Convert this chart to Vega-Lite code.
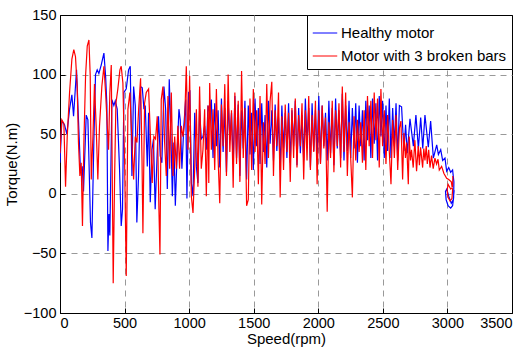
{
"$schema": "https://vega.github.io/schema/vega-lite/v6.json",
"width": 452, "height": 298,
"autosize": {"type": "none"},
"padding": {"left": 60, "top": 15, "right": 17, "bottom": 39},
"background": "white",
"config": {
  "font": "Liberation Sans",
  "view": {"stroke": "black", "strokeWidth": 1},
  "axis": {"domainColor": "black", "tickColor": "black", "labelColor": "black", "titleColor": "black", "labelFont": "Liberation Sans", "titleFont": "Liberation Sans", "labelFontSize": 14.5, "titleFontSize": 15, "titleFontWeight": "normal", "gridColor": "#999999", "gridDash": [6, 5], "gridOpacity": 1, "tickSize": -5, "labelPadding": 8},
  "legend": {"labelFont": "Liberation Sans", "labelFontSize": 15, "labelColor": "black"}
},
"datasets": {
"h": [
{"x":0,"y":26},{"x":14,"y":61},{"x":35,"y":58},{"x":53,"y":50},{"x":74,"y":71},{"x":92,"y":83},{"x":105,"y":65},{"x":128,"y":104},{"x":146,"y":54},{"x":159,"y":18},{"x":172,"y":23},{"x":182,"y":2},{"x":203,"y":66},{"x":216,"y":62},{"x":224,"y":29},{"x":236,"y":-24},{"x":247,"y":-37},{"x":262,"y":43},{"x":275,"y":100},{"x":288,"y":104},{"x":301,"y":101},{"x":319,"y":108},{"x":340,"y":118},{"x":353,"y":99},{"x":363,"y":75},{"x":371,"y":-48},{"x":379,"y":-17},{"x":386,"y":-35},{"x":402,"y":79},{"x":417,"y":74},{"x":428,"y":78},{"x":443,"y":71},{"x":461,"y":21},{"x":474,"y":-27},{"x":484,"y":-13},{"x":495,"y":85},{"x":513,"y":88},{"x":531,"y":104},{"x":544,"y":107},{"x":557,"y":15},{"x":570,"y":90},{"x":583,"y":74},{"x":595,"y":-24},{"x":608,"y":15},{"x":624,"y":90},{"x":637,"y":89},{"x":650,"y":71},{"x":660,"y":74},{"x":676,"y":23},{"x":686,"y":68},{"x":699,"y":-7},{"x":712,"y":37},{"x":724,"y":46},{"x":737,"y":-13},{"x":750,"y":26},{"x":763,"y":65},{"x":776,"y":32},{"x":789,"y":26},{"x":805,"y":90},{"x":818,"y":71},{"x":831,"y":4},{"x":846,"y":96},{"x":857,"y":57},{"x":870,"y":-2},{"x":882,"y":43},{"x":893,"y":-10},{"x":908,"y":37},{"x":921,"y":71},{"x":931,"y":62},{"x":944,"y":21},{"x":959,"y":57},{"x":973,"y":79},{"x":983,"y":-4},{"x":996,"y":85},{"x":1006,"y":86},{"x":1017,"y":9},{"x":1030,"y":-2},{"x":1043,"y":68},{"x":1056,"y":23},{"x":1068,"y":9},{"x":1081,"y":71},{"x":1094,"y":46},{"x":1107,"y":48},{"x":1120,"y":57},{"x":1133,"y":37},{"x":1146,"y":74},{"x":1159,"y":68},{"x":1172,"y":79},
{"x":1185,"y":30},{"x":1198,"y":76},{"x":1211,"y":40},{"x":1224,"y":70},{"x":1237,"y":22},{"x":1250,"y":80},{"x":1263,"y":35},{"x":1276,"y":72},{"x":1289,"y":18},{"x":1302,"y":78},{"x":1315,"y":45},{"x":1328,"y":68},{"x":1341,"y":25},{"x":1354,"y":82},{"x":1367,"y":30},{"x":1380,"y":75},{"x":1393,"y":15},{"x":1406,"y":70},{"x":1419,"y":38},{"x":1432,"y":78},{"x":1445,"y":12},{"x":1458,"y":74},{"x":1471,"y":33},{"x":1484,"y":68},{"x":1497,"y":20},{"x":1510,"y":80},{"x":1523,"y":40},{"x":1536,"y":72},{"x":1549,"y":25},{"x":1562,"y":76},{"x":1575,"y":35},{"x":1588,"y":66},{"x":1601,"y":22},{"x":1614,"y":78},{"x":1627,"y":42},{"x":1640,"y":70},{"x":1653,"y":28},{"x":1666,"y":75},{"x":1679,"y":36},{"x":1692,"y":64},{"x":1705,"y":20},{"x":1718,"y":74},{"x":1731,"y":38},{"x":1744,"y":68},{"x":1757,"y":30},{"x":1770,"y":76},{"x":1783,"y":26},{"x":1796,"y":70},{"x":1809,"y":40},{"x":1822,"y":78},{"x":1835,"y":24},{"x":1848,"y":72},{"x":1861,"y":34},{"x":1874,"y":66},{"x":1887,"y":28},{"x":1900,"y":80},{"x":1913,"y":42},{"x":1926,"y":72},{"x":1939,"y":22},{"x":1952,"y":76},{"x":1965,"y":36},{"x":1978,"y":70},{"x":1991,"y":30},{"x":2004,"y":82},{"x":2017,"y":26},{"x":2030,"y":74},{"x":2043,"y":40},{"x":2056,"y":68},{"x":2069,"y":28},{"x":2082,"y":78},{"x":2095,"y":34},{"x":2108,"y":72},{"x":2121,"y":24},{"x":2134,"y":80},{"x":2147,"y":38},{"x":2160,"y":70},{"x":2173,"y":30},{"x":2186,"y":84},{"x":2199,"y":28},{"x":2212,"y":74},{"x":2225,"y":36},{"x":2238,"y":78},
{"x":2251,"y":30},{"x":2264,"y":72},{"x":2277,"y":38},{"x":2290,"y":76},{"x":2303,"y":26},{"x":2316,"y":74},{"x":2329,"y":40},{"x":2342,"y":70},{"x":2355,"y":28},{"x":2368,"y":78},{"x":2381,"y":45},{"x":2394,"y":74},{"x":2407,"y":30},{"x":2420,"y":80},{"x":2433,"y":42},{"x":2446,"y":76},{"x":2459,"y":28},{"x":2472,"y":82},{"x":2485,"y":48},{"x":2498,"y":78},{"x":2511,"y":30},{"x":2524,"y":74},{"x":2537,"y":36},{"x":2550,"y":80},{"x":2563,"y":30},{"x":2576,"y":72},{"x":2589,"y":40},{"x":2602,"y":76},{"x":2615,"y":28},{"x":2628,"y":74},
{"x":2645,"y":73},{"x":2663,"y":36},{"x":2676,"y":58},{"x":2689,"y":34},{"x":2710,"y":63},{"x":2736,"y":40},{"x":2756,"y":66},{"x":2775,"y":38},{"x":2793,"y":64},{"x":2809,"y":38},{"x":2826,"y":66},{"x":2852,"y":39},{"x":2870,"y":61},{"x":2891,"y":30},{"x":2917,"y":41},{"x":2930,"y":33},{"x":2948,"y":37},{"x":2963,"y":28},{"x":2981,"y":30},{"x":2994,"y":19},{"x":3010,"y":22},{"x":3025,"y":18},{"x":3040,"y":20},{"x":3050,"y":10},{"x":3048,"y":-3},{"x":3040,"y":-10},{"x":3025,"y":-12},{"x":3005,"y":-10},{"x":2990,"y":-5},{"x":2985,"y":2},{"x":2995,"y":4},{"x":3010,"y":-2},{"x":3030,"y":-8},{"x":3045,"y":-5},{"x":3052,"y":3}
],
"b": [
{"x":0,"y":34},{"x":14,"y":62},{"x":30,"y":59},{"x":43,"y":6},{"x":56,"y":48},{"x":74,"y":85},{"x":92,"y":113},{"x":107,"y":121},{"x":120,"y":115},{"x":133,"y":90},{"x":143,"y":43},{"x":154,"y":15},{"x":164,"y":26},{"x":174,"y":-27},{"x":185,"y":43},{"x":198,"y":99},{"x":211,"y":124},{"x":224,"y":129},{"x":234,"y":99},{"x":242,"y":12},{"x":255,"y":48},{"x":267,"y":92},{"x":280,"y":57},{"x":293,"y":12},{"x":306,"y":57},{"x":324,"y":90},{"x":340,"y":107},{"x":353,"y":85},{"x":366,"y":57},{"x":376,"y":37},{"x":386,"y":85},{"x":397,"y":108},{"x":407,"y":-13},{"x":412,"y":-75},{"x":423,"y":15},{"x":433,"y":76},{"x":448,"y":88},{"x":464,"y":104},{"x":474,"y":107},{"x":487,"y":93},{"x":500,"y":29},{"x":513,"y":-69},{"x":526,"y":71},{"x":541,"y":85},{"x":557,"y":43},{"x":570,"y":12},{"x":583,"y":48},{"x":596,"y":43},{"x":609,"y":71},{"x":624,"y":97},{"x":635,"y":29},{"x":642,"y":-33},{"x":655,"y":76},{"x":668,"y":85},{"x":686,"y":88},{"x":702,"y":43},{"x":714,"y":9},{"x":727,"y":48},{"x":740,"y":46},{"x":753,"y":65},{"x":766,"y":-13},{"x":774,"y":-51},{"x":784,"y":79},{"x":797,"y":90},{"x":810,"y":43},{"x":823,"y":15},{"x":836,"y":82},{"x":849,"y":21},{"x":862,"y":85},{"x":875,"y":15},{"x":888,"y":48},{"x":901,"y":21},{"x":913,"y":57},{"x":926,"y":21},{"x":939,"y":57},{"x":952,"y":48},{"x":965,"y":60},{"x":978,"y":107},{"x":991,"y":37},{"x":1004,"y":99},{"x":1017,"y":-2},{"x":1030,"y":-16},{"x":1043,"y":21},{"x":1056,"y":71},{"x":1068,"y":6},{"x":1081,"y":90},{"x":1094,"y":21},{"x":1107,"y":37},{"x":1120,"y":71},{"x":1133,"y":-2},{"x":1146,"y":74},{"x":1152,"y":9},{"x":1159,"y":93},{"x":1172,"y":37},{"x":1185,"y":71},
{"x":1198,"y":20},{"x":1211,"y":88},{"x":1224,"y":30},{"x":1237,"y":-8},{"x":1250,"y":75},{"x":1263,"y":40},{"x":1276,"y":92},{"x":1289,"y":15},{"x":1302,"y":100},{"x":1315,"y":35},{"x":1328,"y":70},{"x":1341,"y":5},{"x":1354,"y":85},{"x":1367,"y":25},{"x":1380,"y":78},{"x":1393,"y":10},{"x":1406,"y":103},{"x":1419,"y":30},{"x":1432,"y":72},{"x":1445,"y":-10},{"x":1458,"y":-5},{"x":1471,"y":80},{"x":1484,"y":20},{"x":1497,"y":88},{"x":1510,"y":35},{"x":1523,"y":70},{"x":1536,"y":8},{"x":1549,"y":82},{"x":1562,"y":-9},{"x":1575,"y":60},{"x":1588,"y":25},{"x":1601,"y":92},{"x":1614,"y":30},{"x":1627,"y":78},{"x":1640,"y":94},{"x":1653,"y":15},{"x":1666,"y":70},{"x":1679,"y":40},{"x":1692,"y":85},{"x":1705,"y":-3},{"x":1718,"y":65},{"x":1731,"y":20},{"x":1744,"y":75},{"x":1757,"y":35},{"x":1770,"y":68},{"x":1783,"y":10},{"x":1796,"y":72},{"x":1809,"y":30},{"x":1822,"y":80},{"x":1835,"y":22},{"x":1848,"y":66},{"x":1861,"y":40},{"x":1874,"y":76},{"x":1887,"y":12},{"x":1900,"y":70},{"x":1913,"y":28},{"x":1926,"y":82},{"x":1939,"y":20},{"x":1952,"y":66},{"x":1965,"y":35},{"x":1978,"y":78},{"x":1991,"y":8},{"x":2004,"y":70},{"x":2017,"y":25},{"x":2030,"y":74},{"x":2043,"y":38},{"x":2056,"y":64},{"x":2069,"y":-15},{"x":2082,"y":60},{"x":2095,"y":30},{"x":2108,"y":78},{"x":2121,"y":18},{"x":2134,"y":70},{"x":2147,"y":40},{"x":2160,"y":76},{"x":2173,"y":22},{"x":2186,"y":90},{"x":2199,"y":35},{"x":2212,"y":85},{"x":2225,"y":15},{"x":2238,"y":60},
{"x":2251,"y":30},{"x":2264,"y":-3},{"x":2277,"y":65},{"x":2290,"y":28},{"x":2303,"y":62},{"x":2316,"y":35},{"x":2329,"y":60},{"x":2342,"y":26},{"x":2355,"y":70},{"x":2368,"y":20},{"x":2381,"y":82},{"x":2394,"y":40},{"x":2407,"y":78},{"x":2420,"y":30},{"x":2433,"y":85},{"x":2446,"y":45},{"x":2459,"y":80},{"x":2472,"y":22},{"x":2485,"y":88},{"x":2498,"y":40},{"x":2511,"y":70},{"x":2524,"y":25},{"x":2537,"y":66},{"x":2550,"y":35},{"x":2563,"y":8},{"x":2576,"y":62},{"x":2589,"y":30},{"x":2602,"y":66},{"x":2615,"y":20},{"x":2628,"y":55},
{"x":2640,"y":61},{"x":2653,"y":12},{"x":2663,"y":51},{"x":2675,"y":30},{"x":2684,"y":43},{"x":2697,"y":8},{"x":2704,"y":48},{"x":2714,"y":28},{"x":2722,"y":37},{"x":2735,"y":22},{"x":2748,"y":45},{"x":2761,"y":19},{"x":2774,"y":40},{"x":2783,"y":24},{"x":2792,"y":39},{"x":2808,"y":22},{"x":2817,"y":38},{"x":2826,"y":28},{"x":2836,"y":40},{"x":2844,"y":25},{"x":2855,"y":37},{"x":2865,"y":22},{"x":2877,"y":32},{"x":2890,"y":21},{"x":2903,"y":30},{"x":2916,"y":25},{"x":2927,"y":29},{"x":2937,"y":20},{"x":2955,"y":23},{"x":2973,"y":17},{"x":2994,"y":13},{"x":3010,"y":12},{"x":3030,"y":10},{"x":3040,"y":3},{"x":3035,"y":-4},{"x":3020,"y":-6},{"x":3005,"y":-3},{"x":2998,"y":3},{"x":3005,"y":8},{"x":3025,"y":4},{"x":3040,"y":6},{"x":3042,"y":15}
]
},
"layer": [
{
  "data": {"name": "h"},
  "mark": {"type": "line", "strokeWidth": 1.2, "clip": true},
  "encoding": {
    "x": {"field": "x", "type": "quantitative", "title": "Speed(rpm)",
      "scale": {"domain": [0, 3500], "nice": false, "zero": false},
      "axis": {"values": [0, 500, 1000, 1500, 2000, 2500, 3000, 3500], "format": "d", "grid": true, "gridOpacity": {"condition": {"test": "datum.value == 0 || datum.value == 3500", "value": 0}, "value": 1}, "titlePadding": 2}},
    "y": {"field": "y", "type": "quantitative", "title": "Torque(N.m)",
      "scale": {"domain": [-100, 150], "nice": false, "zero": false},
      "axis": {"values": [-100, -50, 0, 50, 100, 150], "format": "d", "labelPadding": 9, "grid": true, "gridOpacity": {"condition": {"test": "datum.value == -100 || datum.value == 150", "value": 0}, "value": 1}, "titlePadding": 4}},
    "color": {"datum": "Healthy motor", "type": "nominal",
      "scale": {"domain": ["Healthy motor", "Motor with 3 broken bars"], "range": ["#0000ff", "#ff0000"]},
      "legend": {"orient": "top-right", "offset": 0, "title": null, "strokeColor": "black", "fillColor": "white", "padding": 5, "symbolType": "stroke", "symbolSize": 600, "symbolStrokeWidth": 1, "labelOffset": 3, "labelLimit": 400, "rowPadding": 2}},
    "order": {"value": null}
  }
},
{
  "data": {"name": "b"},
  "mark": {"type": "line", "strokeWidth": 1.2, "clip": true},
  "encoding": {
    "x": {"field": "x", "type": "quantitative"},
    "y": {"field": "y", "type": "quantitative"},
    "color": {"datum": "Motor with 3 broken bars", "type": "nominal"},
    "order": {"value": null}
  }
}
]
}
